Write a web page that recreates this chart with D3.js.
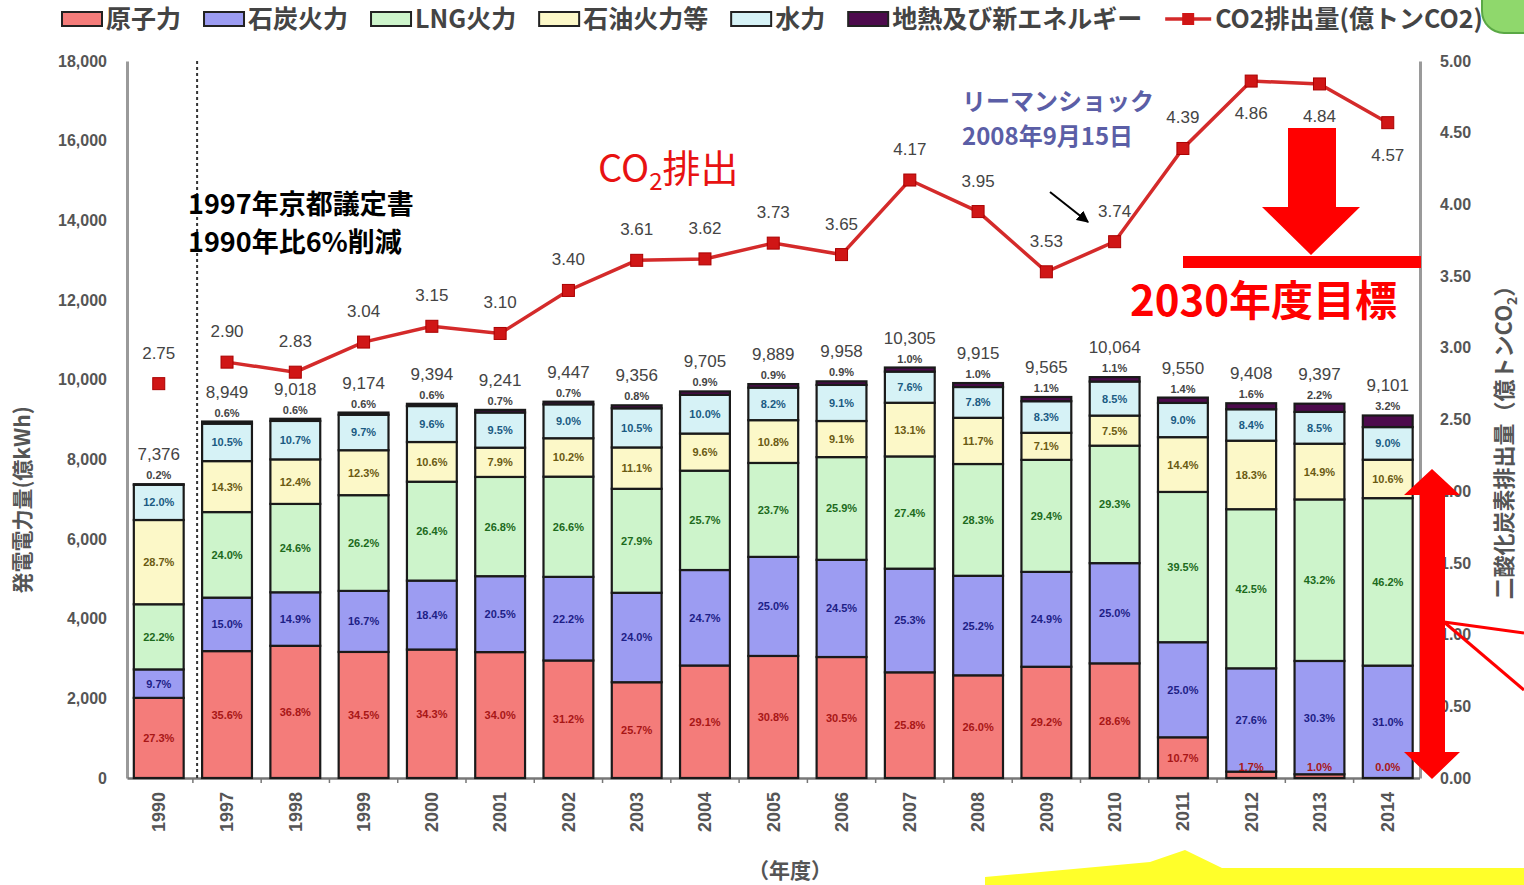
<!DOCTYPE html>
<html><head><meta charset="utf-8">
<script src="https://cdn.jsdelivr.net/npm/d3@7"></script>
<style>body{margin:0;background:#fff;overflow:hidden}svg{display:block}</style>
</head><body>
<svg id="c" width="1524" height="885"></svg>
<script>
// ---------- DATA ----------
const years = ["1990","1997","1998","1999","2000","2001","2002","2003","2004","2005","2006","2007","2008","2009","2010","2011","2012","2013","2014"];
const totals = [7376,8949,9018,9174,9394,9241,9447,9356,9705,9889,9958,10305,9915,9565,10064,9550,9408,9397,9101];
const nuclearPct = [27.3,35.6,36.8,34.5,34.3,34.0,31.2,25.7,29.1,30.8,30.5,25.8,26.0,29.2,28.6,10.7,1.7,1.0,0.0];
const coalPct    = [9.7,15.0,14.9,16.7,18.4,20.5,22.2,24.0,24.7,25.0,24.5,25.3,25.2,24.9,25.0,25.0,27.6,30.3,31.0];
const lngPct     = [22.2,24.0,24.6,26.2,26.4,26.8,26.6,27.9,25.7,23.7,25.9,27.4,28.3,29.4,29.3,39.5,42.5,43.2,46.2];
const oilPct     = [28.7,14.3,12.4,12.3,10.6,7.9,10.2,11.1,9.6,10.8,9.1,13.1,11.7,7.1,7.5,14.4,18.3,14.9,10.6];
const hydroPct   = [12.0,10.5,10.7,9.7,9.6,9.5,9.0,10.5,10.0,8.2,9.1,7.6,7.8,8.3,8.5,9.0,8.4,8.5,9.0];
const geoPct     = [0.2,0.6,0.6,0.6,0.6,0.7,0.7,0.8,0.9,0.9,0.9,1.0,1.0,1.1,1.1,1.4,1.6,2.2,3.2];
const co2 = [2.75,2.90,2.83,3.04,3.15,3.10,3.40,3.61,3.62,3.73,3.65,4.17,3.95,3.53,3.74,4.39,4.86,4.84,4.57];
const seriesNames = ["原子力","石炭火力","LNG火力","石油火力等","水力","地熱及び新エネルギー"];
const co2Name = "CO2排出量(億トンCO2)";
const leftTicks = [0,2000,4000,6000,8000,10000,12000,14000,16000,18000];
const rightTicks = [0,0.5,1.0,1.5,2.0,2.5,3.0,3.5,4.0,4.5,5.0];

// ---------- LAYOUT ----------
const svg = d3.select("#c");
const keys = ["nuclear","coal","lng","oil","hydro","geo"];
const pctArrays = [nuclearPct,coalPct,lngPct,oilPct,hydroPct,geoPct];
const fills = {nuclear:"#f47c7a",coal:"#9c9cf2",lng:"#cdf4cb",oil:"#fcf8c8",hydro:"#d6f2f6",geo:"#4d0b4d"};
const labelColors = {nuclear:"#a81616",coal:"#1e1e86",lng:"#1c6a1c",oil:"#6a5a12",hydro:"#1a5a82",geo:"#333"};
const NUM = "'Liberation Sans', Arial, sans-serif";
const JP = "'Noto Sans CJK JP', sans-serif";

const x = d3.scaleBand().domain(years).range([127,1419.5]).paddingInner(0.27).paddingOuter(0.1);
const y = d3.scaleLinear().domain([0,18000]).range([778,61]);
const y2 = d3.scaleLinear().domain([0,5]).range([778,61]);

const rows = years.map((yr,i)=>{
  const p = pctArrays.map(a=>a[i]);
  const s = d3.sum(p);
  const r = {year:yr,total:totals[i]};
  keys.forEach((k,j)=> r[k] = totals[i]*p[j]/s);
  return r;
});
const stacked = d3.stack().keys(keys)(rows);

// decorations
svg.append("rect").attr("x",1482).attr("y",-25).attr("width",80).attr("height",58).attr("rx",22)
  .attr("fill","#8fd86c").attr("stroke","#5aa845").attr("stroke-width",2);
svg.append("path").attr("d","M985,885 L985,877 L1150,862 L1185,850 L1222,868 L1524,868 L1524,885 Z")
  .attr("fill","#ffff2a");

// axes
const gL = svg.append("g").attr("transform","translate(127,0)")
  .call(d3.axisLeft(y).tickValues(leftTicks).tickFormat(d3.format(",")).tickSize(0).tickPadding(20));
gL.select(".domain").attr("stroke","#9a9a9a").attr("stroke-width",3);
gL.selectAll("text").attr("font-family",NUM).attr("font-size",16).attr("font-weight","bold").attr("fill","#555");

const gR = svg.append("g").attr("transform","translate(1420,0)")
  .call(d3.axisRight(y2).tickValues(rightTicks).tickFormat(d3.format(".2f")).tickSize(0).tickPadding(20));
gR.select(".domain").attr("stroke","#9a9a9a").attr("stroke-width",3);
gR.selectAll("text").attr("font-family",NUM).attr("font-size",16).attr("font-weight","bold").attr("fill","#555");

const gB = svg.append("g").attr("transform","translate(0,778)")
  .call(d3.axisBottom(x).tickSize(0).tickPadding(0));
gB.select(".domain").attr("stroke","#777").attr("stroke-width",2.5);
gB.selectAll("text").attr("font-family",NUM).attr("font-size",18).attr("font-weight","bold").attr("fill","#555")
  .attr("text-anchor","end").attr("transform","translate(0,14) rotate(-90)").attr("dy","0.35em").attr("y",0).attr("x",0);
// small tick marks between bars
svg.append("g").selectAll("line").data(years.slice(1)).join("line")
  .attr("x1",d=>x(d)-x.step()*x.paddingInner()/2).attr("x2",d=>x(d)-x.step()*x.paddingInner()/2)
  .attr("y1",778).attr("y2",783).attr("stroke","#777").attr("stroke-width",1.5);

// axis titles
svg.append("text").attr("transform","translate(30,500) rotate(-90)").attr("text-anchor","middle")
  .attr("font-family",JP).attr("font-size",21).attr("font-weight","bold").attr("fill","#555").text("発電電力量(億kWh)");
const rt = svg.append("text").attr("transform","translate(1512,437) rotate(-90)").attr("text-anchor","middle")
  .attr("font-family",JP).attr("font-size",22).attr("font-weight","bold").attr("fill","#555");
rt.append("tspan").text("二酸化炭素排出量（億トンCO");
rt.append("tspan").attr("font-size",14).attr("dy",5).text("2");
rt.append("tspan").attr("dy",-5).text("）");
svg.append("text").attr("x",790).attr("y",878).attr("text-anchor","middle")
  .attr("font-family",JP).attr("font-size",21).attr("font-weight","bold").attr("fill","#555").text("（年度）");

// dashed divider
svg.append("line").attr("x1",x("1997")-5).attr("x2",x("1997")-5).attr("y1",61).attr("y2",778)
  .attr("stroke","#333").attr("stroke-width",2).attr("stroke-dasharray","3,3");

// bars
const gBars = svg.append("g");
stacked.forEach(layer=>{
  gBars.append("g").selectAll("rect").data(layer).join("rect")
    .attr("x",d=>x(d.data.year)).attr("width",x.bandwidth())
    .attr("y",d=>y(d[1])).attr("height",d=>y(d[0])-y(d[1]))
    .attr("fill",fills[layer.key]).attr("stroke","#1a1a1a").attr("stroke-width",2.2);
});
// percent labels
stacked.forEach((layer,j)=>{
  if(layer.key==="geo") return;
  gBars.append("g").selectAll("text").data(layer).join("text")
    .attr("x",d=>x(d.data.year)+x.bandwidth()/2)
    .attr("y",d=>Math.min((y(d[0])+y(d[1]))/2, y(d[0])-11)+4)
    .attr("text-anchor","middle").attr("font-family",NUM).attr("font-size",11).attr("font-weight","bold")
    .attr("fill",labelColors[layer.key])
    .text((d,i)=>d3.format(".1f")(pctArrays[j][i])+"%");
});
// geo labels above bar
gBars.append("g").selectAll("text").data(rows).join("text")
  .attr("x",d=>x(d.year)+x.bandwidth()/2).attr("y",d=>y(d.total)-5)
  .attr("text-anchor","middle").attr("font-family",NUM).attr("font-size",11).attr("font-weight","bold").attr("fill","#444")
  .text((d,i)=>d3.format(".1f")(geoPct[i])+"%");
// totals
gBars.append("g").selectAll("text").data(rows).join("text")
  .attr("x",d=>x(d.year)+x.bandwidth()/2).attr("y",d=>y(d.total)-24)
  .attr("text-anchor","middle").attr("font-family",NUM).attr("font-size",17).attr("fill","#444")
  .text(d=>d3.format(",")(d.total));

// CO2 line
const pts = years.map((yr,i)=>({year:yr,v:co2[i]}));
const cx = d=>x(d.year)+x.bandwidth()/2;
const belowSet = new Set(["2012","2013","2014"]);
svg.append("path").datum(pts.slice(1))
  .attr("d",d3.line().x(cx).y(d=>y2(d.v)))
  .attr("fill","none").attr("stroke","#d42a2a").attr("stroke-width",3.5);
svg.append("g").selectAll("rect").data(pts).join("rect")
  .attr("x",d=>cx(d)-6).attr("y",d=>y2(d.v)-6).attr("width",12).attr("height",12)
  .attr("fill","#d01616").attr("stroke","#a00").attr("stroke-width",1);
svg.append("g").selectAll("text").data(pts).join("text")
  .attr("x",cx).attr("y",d=>belowSet.has(d.year)? y2(d.v)+38 : y2(d.v)-25)
  .attr("text-anchor","middle").attr("font-family",NUM).attr("font-size",17).attr("fill","#444")
  .text(d=>d3.format(".2f")(d.v));

// legend
let lx = 62;
const gLeg = svg.append("g");
seriesNames.forEach((n,i)=>{
  gLeg.append("rect").attr("x",lx).attr("y",12).attr("width",40).attr("height",14)
    .attr("fill",fills[keys[i]]).attr("stroke","#222").attr("stroke-width",2);
  const t = gLeg.append("text").attr("x",lx+44).attr("y",28).attr("font-family",JP).attr("font-size",25)
    .attr("font-weight","bold").attr("fill","#444").text(n);
  lx += 44 + t.node().getComputedTextLength() + 23;
});
gLeg.append("line").attr("x1",lx).attr("x2",lx+46).attr("y1",19).attr("y2",19).attr("stroke","#d42a2a").attr("stroke-width",3.5);
gLeg.append("rect").attr("x",lx+17).attr("y",13).attr("width",12).attr("height",12).attr("fill","#d01616");
gLeg.append("text").attr("x",lx+50).attr("y",28).attr("font-family",JP).attr("font-size",25)
  .attr("font-weight","bold").attr("fill","#444").text(co2Name);

// annotations
const ann = svg.append("g");
ann.append("text").attr("x",188).attr("y",214).attr("font-family",JP).attr("font-size",27).attr("font-weight","bold").attr("fill","#000").text("1997年京都議定書");
ann.append("text").attr("x",188).attr("y",252).attr("font-family",JP).attr("font-size",27).attr("font-weight","bold").attr("fill","#000").text("1990年比6%削減");
const co2t = ann.append("text").attr("x",598).attr("y",182).attr("font-family",JP).attr("font-size",38).attr("fill","#e81212");
co2t.append("tspan").text("CO");
co2t.append("tspan").attr("font-size",24).attr("dy",8).text("2");
co2t.append("tspan").attr("dy",-8).text("排出");
ann.append("text").attr("x",962).attr("y",110).attr("font-family",JP).attr("font-size",24).attr("font-weight","bold").attr("fill","#5b5ea6").text("リーマンショック");
ann.append("text").attr("x",962).attr("y",145).attr("font-family",JP).attr("font-size",24).attr("font-weight","bold").attr("fill","#5b5ea6").text("2008年9月15日");
// small black arrow
svg.append("defs").append("marker").attr("id","ah").attr("viewBox","0 0 10 10").attr("refX",9).attr("refY",5)
  .attr("markerWidth",6).attr("markerHeight",6).attr("orient","auto")
  .append("path").attr("d","M0,0 L10,5 L0,10 Z").attr("fill","#000");
ann.append("line").attr("x1",1050).attr("y1",192).attr("x2",1088).attr("y2",222).attr("stroke","#000").attr("stroke-width",2).attr("marker-end","url(#ah)");
// big red down arrow + target line
ann.append("path").attr("d","M1288,128 L1336,128 L1336,207 L1360,207 L1311,255 L1262,207 L1288,207 Z").attr("fill","#ff0000");
ann.append("rect").attr("x",1183).attr("y",256).attr("width",238).attr("height",12).attr("fill","#ff0000");
ann.append("text").attr("x",1130).attr("y",316).attr("font-family",JP).attr("font-size",42).attr("font-weight","bold").attr("fill","#ff0000").text("2030年度目標");
// double arrow
ann.append("path").attr("d","M1432,469 L1460,495 L1445,495 L1445,752 L1460,752 L1432,779 L1404,752 L1420,752 L1420,495 L1404,495 Z").attr("fill","#ff0000");
ann.append("line").attr("x1",1444).attr("y1",622).attr("x2",1524).attr("y2",633).attr("stroke","#ff0000").attr("stroke-width",3);
ann.append("line").attr("x1",1444).attr("y1",622).attr("x2",1524).attr("y2",690).attr("stroke","#ff0000").attr("stroke-width",3);
</script>
</body></html>
